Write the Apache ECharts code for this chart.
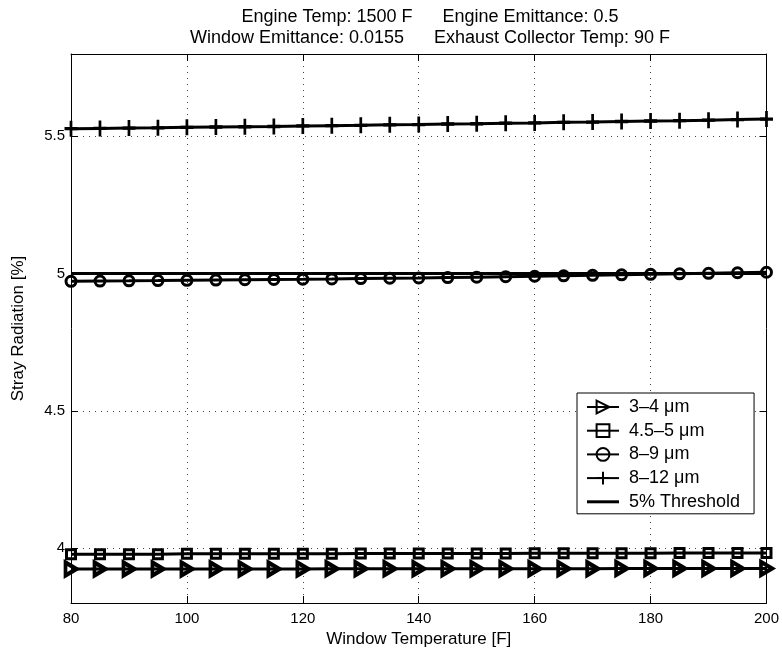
<!DOCTYPE html>
<html>
<head>
<meta charset="utf-8">
<script src="https://cdn.jsdelivr.net/npm/echarts@6/dist/echarts.min.js"></script>
<style>html,body{margin:0;padding:0;background:#fff}#c{width:782px;height:655px}</style>
</head>
<body>
<div id="c"></div>
<script>
const xs = [80,85,90,95,100,105,110,115,120,125,130,135,140,145,150,155,160,165,170,175,180,185,190,195,200];
const s34 = [3.924,3.924,3.924,3.924,3.924,3.924,3.924,3.924,3.924,3.925,3.925,3.925,3.925,3.925,3.925,3.925,3.925,3.925,3.925,3.926,3.926,3.926,3.926,3.926,3.926];
const s455 = [3.978,3.978,3.978,3.978,3.979,3.979,3.979,3.979,3.979,3.979,3.980,3.980,3.980,3.980,3.980,3.980,3.981,3.981,3.981,3.981,3.981,3.982,3.982,3.982,3.982];
const s89 = [4.972,4.9728,4.9736,4.9745,4.9755,4.9765,4.9775,4.9785,4.9795,4.9807,4.982,4.983,4.984,4.9855,4.987,4.9887,4.9903,4.992,4.9937,4.9955,4.9973,4.999,5.001,5.003,5.005];
const s812 = [5.528,5.529,5.530,5.531,5.533,5.534,5.535,5.536,5.538,5.539,5.540,5.542,5.543,5.545,5.546,5.548,5.549,5.551,5.552,5.554,5.556,5.557,5.559,5.561,5.563];
const thrX = [80, 200];
const thrY = [5, 5];
const names = ['3\u20134 \u03bcm', '4.5\u20135 \u03bcm', '8\u20139 \u03bcm', '8\u201312 \u03bcm', '5% Threshold'];
const yTicks = [4, 4.5, 5, 5.5];
const titleText = 'Engine Temp: 1500 F      Engine Emittance: 0.5\nWindow Emittance: 0.0155      Exhaust Collector Temp: 90 F';

const FONT = 'Liberation Sans';
const pair = (x, y) => x.map((v, i) => [v, y[i]]);
const lineStyle = {color: '#000', width: 3};
const mk = (name, data, symbol, size, bw) => ({
  name, type: 'line', data, symbol, symbolSize: size,
  showSymbol: true, showAllSymbol: true, clip: false,
  lineStyle, itemStyle: {color: 'rgba(255,255,255,0)', borderColor: '#000', borderWidth: bw},
  emphasis: {disabled: true}
});

const chart = echarts.init(document.getElementById('c'), null, {renderer: 'canvas'});
const gridLine = {show: true, lineStyle: {color: '#444', type: [1, 5], width: 1}};
chart.setOption({
  animation: false,
  backgroundColor: '#fff',
  textStyle: {fontFamily: FONT},
  title: {
    text: titleText, left: 425, top: 2, textAlign: 'center',
    textStyle: {fontFamily: FONT, fontSize: 18, fontWeight: 'normal', color: '#000', lineHeight: 21}
  },
  grid: {left: 71, right: 15, top: 54, bottom: 52, containLabel: false},
  legend: {
    orient: 'vertical', left: 577, top: 393,
    backgroundColor: '#fff', borderColor: '#000', borderWidth: 1,
    padding: [5, 14, 3, 9], itemGap: 5.7, itemWidth: 32, itemHeight: 16,
    textStyle: {fontFamily: FONT, fontSize: 18, color: '#000', padding: [0, 0, 0, 5]},
    data: [names[0], names[1], names[2], names[3],
      {name: names[4], icon: 'path://M0,0 L32,0 L32,3 L0,3 Z', itemStyle: {color: '#000'}}]
  },
  xAxis: [{
    type: 'value', min: 80, max: 200, interval: 20,
    name: 'Window Temperature [F]', nameLocation: 'middle', nameGap: 27,
    nameTextStyle: {fontFamily: FONT, fontSize: 17, color: '#000'},
    axisLine: {show: true, lineStyle: {color: '#000', width: 1}},
    axisTick: {show: true, inside: true, length: 7, lineStyle: {color: '#000'}},
    axisLabel: {fontFamily: FONT, fontSize: 15, color: '#000', margin: 8},
    splitLine: gridLine
  }, {
    type: 'value', min: 80, max: 200, interval: 20, position: 'top',
    axisLine: {show: true, lineStyle: {color: '#000', width: 1}},
    axisTick: {show: true, inside: true, length: 7, lineStyle: {color: '#000'}},
    axisLabel: {show: false}, splitLine: {show: false}
  }],
  yAxis: [{
    type: 'value', min: 3.8, max: 5.8,
    name: 'Stray Radiation [%]', nameLocation: 'middle', nameGap: 44,
    nameTextStyle: {fontFamily: FONT, fontSize: 17, color: '#000'},
    axisLine: {show: true, lineStyle: {color: '#000', width: 1}},
    axisTick: {show: true, inside: true, length: 7, lineStyle: {color: '#000'}, customValues: yTicks},
    axisLabel: {fontFamily: FONT, fontSize: 15, color: '#000', margin: 6, customValues: yTicks, formatter: v => String(v)},
    splitLine: gridLine
  }, {
    type: 'value', min: 3.8, max: 5.8, position: 'right',
    axisLine: {show: true, lineStyle: {color: '#000', width: 1}},
    axisTick: {show: true, inside: true, length: 7, lineStyle: {color: '#000'}, customValues: yTicks},
    axisLabel: {show: false}, splitLine: {show: false}
  }],
  series: [
    mk(names[0], pair(xs, s34), 'path://M0,0 L10,5 L0,10 Z', [11, 13], 4),
    mk(names[1], pair(xs, s455), 'rect', 9, 3),
    mk(names[2], pair(xs, s89), 'circle', 10, 3),
    mk(names[3], pair(xs, s812), 'path://M5,0 L5,10 M0,5 L10,5', [13, 16], 3),
    {name: names[4], type: 'line', data: pair(thrX, thrY), symbol: 'none',
     lineStyle, itemStyle: {color: '#000'}, clip: false, emphasis: {disabled: true}}
  ]
});
</script>
</body>
</html>
